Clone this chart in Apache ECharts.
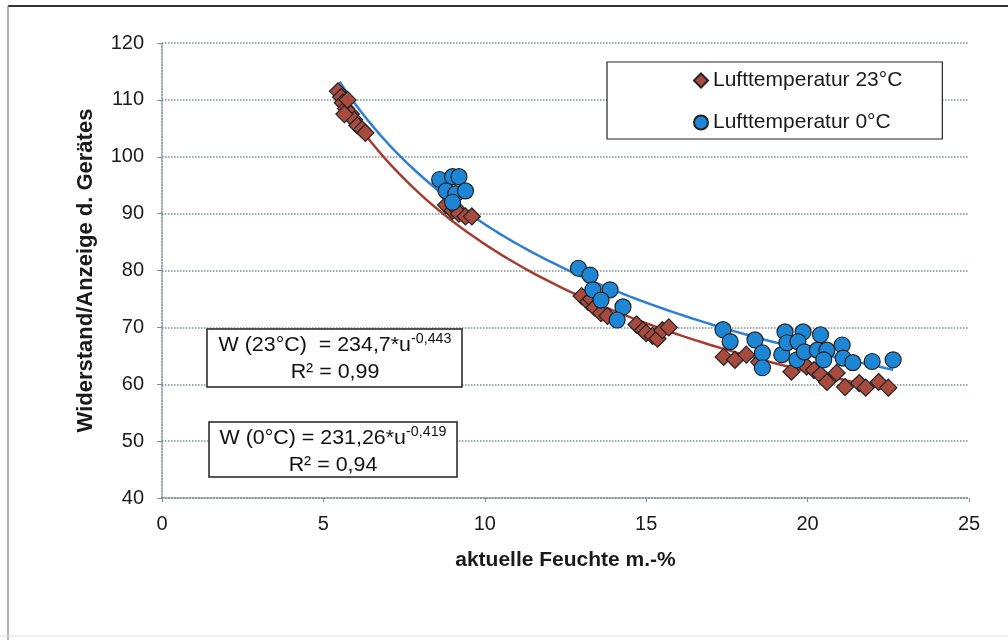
<!DOCTYPE html>
<html>
<head>
<meta charset="utf-8">
<script src="https://cdn.jsdelivr.net/npm/echarts@6/dist/echarts.min.js"></script>
<style>
html,body{margin:0;padding:0;background:#fff;}
#chart{width:1008px;height:640px;}
</style>
</head>
<body>
<div id="chart"></div>
<script>
// ---- data ----
const seriesNames = ['Lufttemperatur 23°C', 'Lufttemperatur 0°C'];
const x23 = [5.45,5.55,5.6,5.7,5.75,5.85,5.95,6.05,6.2,6.3,5.65,
             8.8,9.0,9.1,9.2,9.4,9.6,
             13.0,13.2,13.3,13.4,13.6,13.8,
             14.7,14.9,15.0,15.2,15.35,15.5,15.7,
             17.4,17.75,18.1,18.5,19.5,19.97,20.2,20.4,20.6,20.9,21.16,21.6,21.8,22.2,22.5];
const y23 = [111.5,110.5,109.5,108.5,110,107.5,106.5,105.5,104.8,104.2,107.5,
             91.5,90.5,91,90,89.5,89.5,
             75.5,74.5,75,73.5,72.5,72,
             70.5,69.5,69,68.5,68,69.5,70,
             64.8,64.3,65.2,63.9,62.2,63.1,62.5,61.7,60.4,62.0,59.5,60.2,59.4,60.4,59.4];
const x0 = [8.6,9.0,9.2,8.8,9.1,9.4,9.0,
            12.9,13.26,13.35,13.88,14.28,14.1,13.6,
            17.38,17.6,18.37,18.6,18.6,19.2,19.3,19.36,19.86,19.7,19.67,19.9,20.4,20.3,20.6,20.5,21.07,21.1,21.4,22.0,22.65];
const y0 = [96,96.5,96.5,94,93.5,94,92,
            80.4,79.2,76.6,76.6,73.6,71.3,74.8,
            69.6,67.5,67.8,65.5,62.9,65.2,69.2,67.3,69.2,67.5,64.3,65.7,68.7,66.0,66.0,64.3,66.9,64.6,63.8,64.0,64.3];
// power-trendline coefficients printed on the chart: W = a*u^b
const fit23 = [234.7, -0.443];
const fit0 = [231.26, -0.419];
const fitRange23 = [5.4, 22.5];
const fitRange0 = [5.5, 22.65];
const xTicks = [0, 5, 10, 15, 20, 25];
const yTicks = [40, 50, 60, 70, 80, 90, 100, 110, 120];

function pairs(xs, ys){ return xs.map((x,i)=>[x, ys[i]]); }
function trend(fit, range){
  const out = [];
  const n = 80;
  for(let i=0;i<=n;i++){
    const u = range[0] + (range[1]-range[0])*i/n;
    out.push([u, fit[0]*Math.pow(u, fit[1])]);
  }
  return out;
}

const FONT = 'Liberation Sans, Arial, sans-serif';
const eqRich = {
  a:{fontSize:21, fontFamily:FONT, lineHeight:27, fill:'#111'},
  s:{fontSize:14, fontFamily:FONT, verticalAlign:'top', lineHeight:27, fill:'#111'}
};
const chart = echarts.init(document.getElementById('chart'));
chart.setOption({
  backgroundColor:'#fff',
  animation:false,
  textStyle:{fontFamily:FONT},
  grid:{left:162, right:39, top:43, bottom:142},
  xAxis:{
    type:'value', min:xTicks[0], max:xTicks[xTicks.length-1], interval:5,
    name:'aktuelle Feuchte m.-%', nameLocation:'middle', nameGap:52,
    nameTextStyle:{fontSize:21, fontWeight:'bold', color:'#1a1a1a', fontFamily:FONT},
    axisLine:{show:true, lineStyle:{color:'#7d8f96', type:'dotted', width:1.5}},
    axisTick:{show:true, inside:false, length:4, lineStyle:{color:'#7d8f96'}},
    axisLabel:{fontSize:20, color:'#1a1a1a', margin:16, fontFamily:FONT},
    splitLine:{show:false}
  },
  yAxis:{
    type:'value', min:yTicks[0], max:yTicks[yTicks.length-1], interval:10,
    name:'Widerstand/Anzeige d. Gerätes', nameLocation:'middle', nameGap:65,
    nameTextStyle:{fontSize:22, fontWeight:'bold', color:'#1a1a1a', fontFamily:FONT},
    axisLine:{show:true, lineStyle:{color:'#7d8f96', type:'dotted', width:1.5}},
    axisTick:{show:true, length:5, lineStyle:{color:'#7d8f96'}},
    axisLabel:{fontSize:20, color:'#1a1a1a', margin:18, fontFamily:FONT},
    splitLine:{show:true, lineStyle:{color:'#7d8f96', type:'dotted', width:1.5}}
  },
  legend:{
    data:[{name:seriesNames[0], icon:'diamond'},{name:seriesNames[1], icon:'circle'}],
    orient:'vertical', left:607, top:62,
    padding:[8,40,6,86], itemGap:21, itemWidth:14, itemHeight:14,
    borderColor:'#222', borderWidth:1.2, backgroundColor:'#fff',
    textStyle:{fontSize:21, color:'#1a1a1a', fontFamily:FONT}
  },
  series:[
    {name:'trend23', type:'line', data:trend(fit23, fitRange23), showSymbol:false, symbol:'none',
     lineStyle:{color:'#a63c30', width:2.5}, z:1, silent:true},
    {name:'trend0', type:'line', data:trend(fit0, fitRange0), showSymbol:false, symbol:'none',
     lineStyle:{color:'#2d7fd2', width:2.5}, z:1, silent:true},
    {name:seriesNames[0], type:'scatter', symbol:'diamond', symbolSize:17, data:pairs(x23,y23),
     itemStyle:{color:'#a84b3e', borderColor:'#222', borderWidth:1.2, opacity:1}, z:3},
    {name:seriesNames[1], type:'scatter', symbol:'circle', symbolSize:16, data:pairs(x0,y0),
     itemStyle:{color:'#1d87d5', borderColor:'#222', borderWidth:1.2, opacity:1}, z:4}
  ],
  graphic:[
    {type:'line', shape:{x1:8,y1:6,x2:1008,y2:6}, style:{stroke:'#333', lineWidth:2}},
    {type:'line', shape:{x1:8,y1:6,x2:8,y2:640}, style:{stroke:'#999', lineWidth:1.5}},
    {type:'line', shape:{x1:0,y1:636,x2:1008,y2:636}, style:{stroke:'#e4e4e4', lineWidth:1}},
    {type:'rect', shape:{x:207,y:329,width:255,height:58}, style:{fill:'#fff', stroke:'#222', lineWidth:1.5}, z:10},
    {type:'text', x:335, y:332, scaleX:1.02, z:11, style:{
      text:'{a|W (23°C)  = 234,7*u}{s|-0,443}\n{a|R² = 0,99}', align:'center', font:'21px '+FONT, rich:eqRich
    }},
    {type:'rect', shape:{x:209,y:422,width:248,height:55}, style:{fill:'#fff', stroke:'#222', lineWidth:1.5}, z:10},
    {type:'text', x:333, y:425, scaleX:1.02, z:11, style:{
      text:'{a|W (0°C) = 231,26*u}{s|-0,419}\n{a|R² = 0,94}', align:'center', font:'21px '+FONT, rich:eqRich
    }}
  ]
});
</script>
</body>
</html>
